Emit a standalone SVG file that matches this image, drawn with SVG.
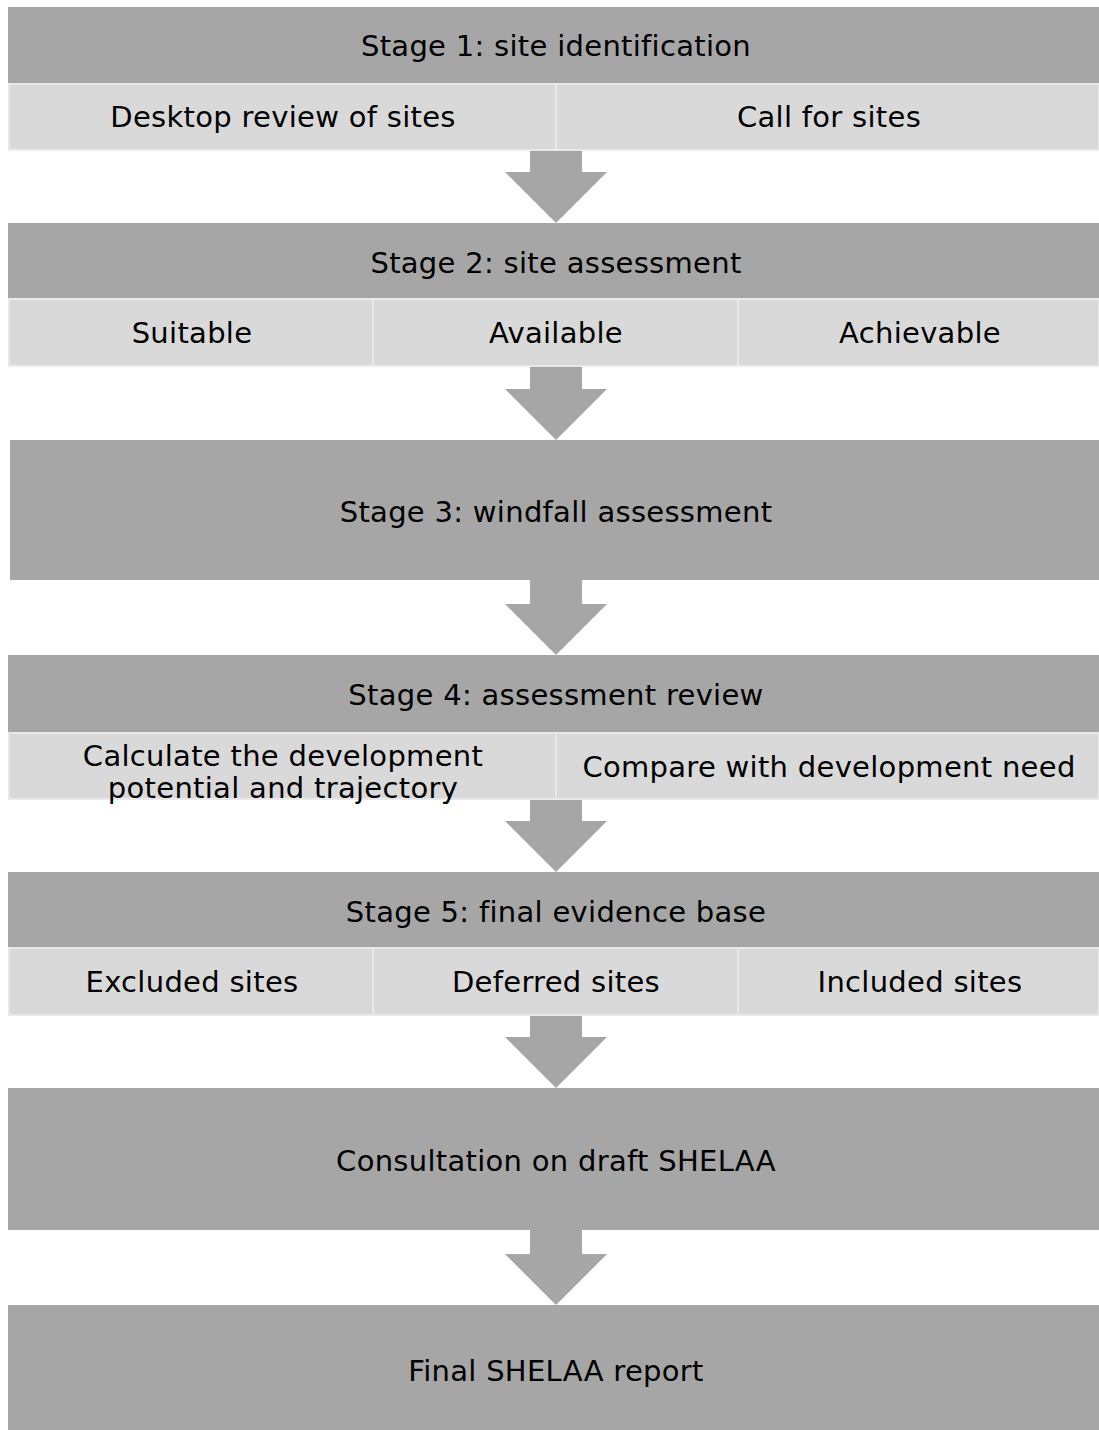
<svg xmlns="http://www.w3.org/2000/svg" width="1099" height="1430" viewBox="0 0 1099 1430">
<style>
.hd{fill:#a6a6a6}
.sb{fill:#d9d9d9;stroke:#e9e9e9;stroke-width:2}
.ar{fill:#a6a6a6}
text{font-family:"DejaVu Sans","Verdana",sans-serif;font-size:29px;letter-spacing:0.3px;fill:#000;text-anchor:middle}
</style>
<rect width="1099" height="1430" fill="#fff"/>
<g id="connectors">
<polygon class="ar" points="530,150 582,150 582,172 607,172 556,223 505,172 530,172"/>
<polygon class="ar" points="530,366 582,366 582,389 607,389 556,440 505,389 530,389"/>
<polygon class="ar" points="530,580 582,580 582,604 607,604 556,655 505,604 530,604"/>
<polygon class="ar" points="530,799 582,799 582,821 607,821 556,872 505,821 530,821"/>
<polygon class="ar" points="530,1015 582,1015 582,1037 607,1037 556,1088 505,1037 530,1037"/>
<polygon class="ar" points="530,1230 582,1230 582,1254 607,1254 556,1305 505,1254 530,1254"/>
</g>
<g id="stage1">
<rect class="hd" x="8" y="7" width="1091" height="76"/>
<text x="556" y="56">Stage 1: site identification</text>
</g>
<g id="desktop-review">
<rect class="sb" x="9" y="84" width="547" height="66"/>
<text x="283" y="127">Desktop review of sites</text>
</g>
<g id="call-for-sites">
<rect class="sb" x="556" y="84" width="543" height="66"/>
<text x="829" y="127">Call for sites</text>
</g>
<g id="stage2">
<rect class="hd" x="8" y="223" width="1091" height="75"/>
<text x="556" y="273">Stage 2: site assessment</text>
</g>
<g id="suitable">
<rect class="sb" x="9" y="299" width="364" height="67"/>
<text x="192" y="343">Suitable</text>
</g>
<g id="available">
<rect class="sb" x="373" y="299" width="365" height="67"/>
<text x="556" y="343">Available</text>
</g>
<g id="achievable">
<rect class="sb" x="738" y="299" width="361" height="67"/>
<text x="920" y="343">Achievable</text>
</g>
<g id="stage3">
<rect class="hd" x="10" y="440" width="1089" height="140"/>
<text x="556" y="522">Stage 3: windfall assessment</text>
</g>
<g id="stage4">
<rect class="hd" x="8" y="655" width="1091" height="77"/>
<text x="556" y="705">Stage 4: assessment review</text>
</g>
<g id="calculate">
<rect class="sb" x="9" y="733" width="547" height="66"/>
<text x="283" y="766">Calculate the development</text>
<text x="283" y="798">potential and trajectory</text>
</g>
<g id="compare">
<rect class="sb" x="556" y="733" width="543" height="66"/>
<text x="829" y="777">Compare with development need</text>
</g>
<g id="stage5">
<rect class="hd" x="8" y="872" width="1091" height="75"/>
<text x="556" y="922">Stage 5: final evidence base</text>
</g>
<g id="excluded">
<rect class="sb" x="9" y="948" width="364" height="67"/>
<text x="192" y="992">Excluded sites</text>
</g>
<g id="deferred">
<rect class="sb" x="373" y="948" width="365" height="67"/>
<text x="556" y="992">Deferred sites</text>
</g>
<g id="included">
<rect class="sb" x="738" y="948" width="361" height="67"/>
<text x="920" y="992">Included sites</text>
</g>
<g id="consultation">
<rect class="hd" x="8" y="1088" width="1091" height="142"/>
<text x="556" y="1171">Consultation on draft SHELAA</text>
</g>
<g id="final">
<rect class="hd" x="8" y="1305" width="1091" height="125"/>
<text x="556" y="1381">Final SHELAA report</text>
</g>
</svg>
